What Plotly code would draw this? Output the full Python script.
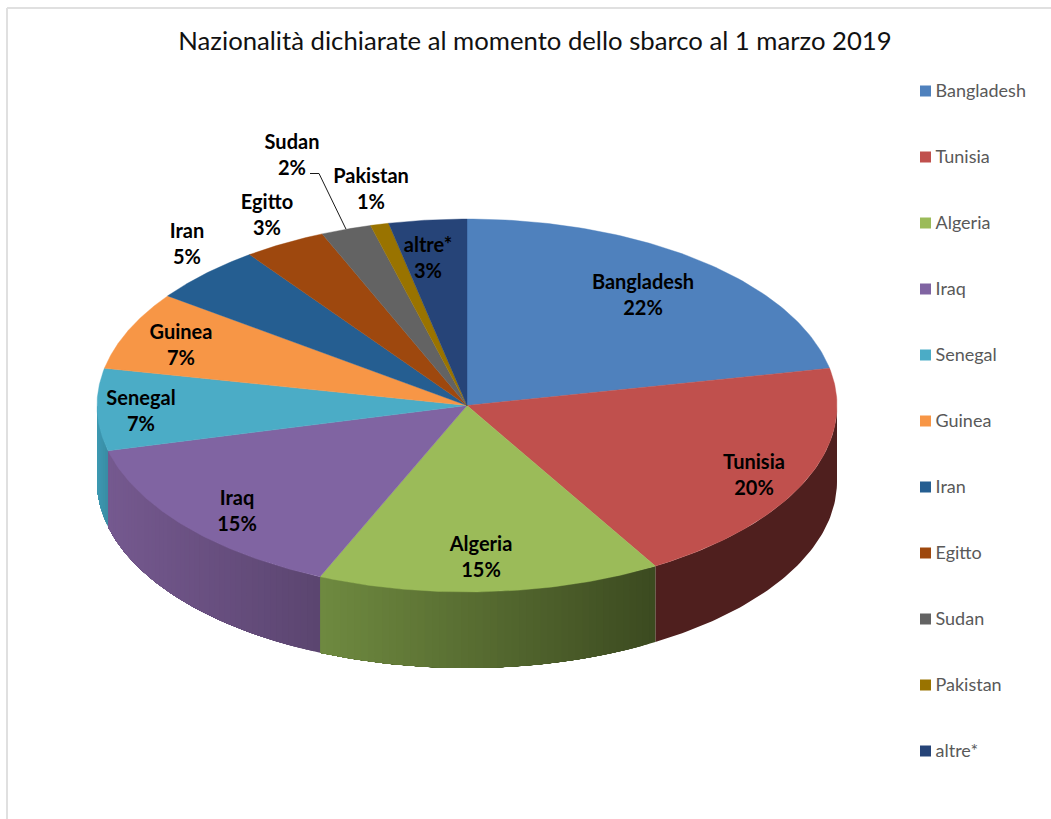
import math
import plotly.graph_objects as go

W, H = 1051, 819
title = "Nazionalità dichiarate al momento dello sbarco al 1 marzo 2019"
categories = ["Bangladesh", "Tunisia", "Algeria", "Iraq", "Senegal", "Guinea",
              "Iran", "Egitto", "Sudan", "Pakistan", "altre*"]
shares = [21.8, 19.7, 15.0, 14.6, 7.1, 6.8, 5.0, 3.6, 2.2, 0.8, 3.4]
percent_labels = ["22%", "20%", "15%", "15%", "7%", "7%", "5%", "3%", "2%", "1%", "3%"]
colors = ["#4f81bd", "#c0504d", "#9bbb59", "#8064a2", "#4bacc6", "#f79646",
          "#255e91", "#9e480e", "#636363", "#997300", "#264478"]
# side-wall shading, left edge -> right edge on screen
wall_left = {"Tunisia": "#4f1f1e", "Algeria": "#6f8a40", "Iraq": "#75598f", "Senegal": "#3f9ab3"}
wall_right = {"Tunisia": "#4f1f1e", "Algeria": "#3c4a20", "Iraq": "#5b4570", "Senegal": "#3a8ca4"}
label_x = [643, 754, 481, 237, 141, 181, 187, 267, 292, 371, 428]
label_y = [281, 461, 543, 497, 397, 331, 230, 201, 141, 175, 244]
line_gap = 26.5

CX, CY, RX, RY, DEPTH_PX = 467, 405.5, 370, 186.5, 76
depth = DEPTH_PX / RY
FONT = "Lato, Carlito, sans-serif"


def hex_rgb(c):
    return [int(c[i:i + 2], 16) for i in (1, 3, 5)]


def mix(a, b, t):
    ra, rb = hex_rgb(a), hex_rgb(b)
    return "rgb(%d,%d,%d)" % tuple(round(x + (y - x) * t) for x, y in zip(ra, rb))


def arc(a0, a1, n=80):
    return [a0 + (a1 - a0) * i / n for i in range(n + 1)]


total = sum(shares)
edges = [0.0]
for v in shares:
    edges.append(edges[-1] + 360.0 * v / total)

fig = go.Figure()

# front walls, in unit-circle coordinates: the axis scales squash the circle.
# each strip runs to the wedge's far end so later strips overpaint seams.
for i, name in enumerate(categories):
    a0, a1 = max(edges[i], 90.0), min(edges[i + 1], 270.0)
    if a1 <= a0:
        continue
    strips = 1 if wall_left[name] == wall_right[name] else 48
    xl = math.sin(math.radians(a1))
    xr = math.sin(math.radians(a0))
    for k in range(strips):
        s0 = a0 + (a1 - a0) * k / strips
        s1 = a0 + (a1 - a0) * (k + 1) / strips
        pts = arc(s0, a1, 60)
        xs = [math.sin(math.radians(p)) for p in pts]
        ys = [math.cos(math.radians(p)) for p in pts]
        xmid = math.sin(math.radians((s0 + s1) / 2))
        col = mix(wall_left[name], wall_right[name], (xmid - xl) / (xr - xl))
        fig.add_trace(go.Scatter(
            x=xs + xs[::-1],
            y=ys + [y - depth for y in ys[::-1]],
            mode="lines", fill="toself", fillcolor=col,
            line=dict(width=0), hoverinfo="skip", showlegend=False))

# top faces
for i, name in enumerate(categories):
    pts = arc(edges[i], edges[i + 1])
    xs = [0] + [math.sin(math.radians(p)) for p in pts] + [0]
    ys = [0] + [math.cos(math.radians(p)) for p in pts] + [0]
    fig.add_trace(go.Scatter(
        x=xs, y=ys, mode="lines", fill="toself", fillcolor=colors[i], name=name,
        line=dict(color=colors[i], width=0.4), hoverinfo="name", showlegend=False))

# leader line for Sudan (in unit coordinates, ends on the slice's outer edge)
to_x = lambda px: (px - CX) / RX
to_y = lambda py: (CY - py) / RY
si = categories.index("Sudan")
mid = math.radians((edges[si] + edges[si + 1]) / 2)
lx0, ly0 = label_x[si], label_y[si] + line_gap + 6
fig.add_trace(go.Scatter(
    x=[to_x(lx0 + 18), to_x(lx0 + 27), math.sin(mid)],
    y=[to_y(ly0), to_y(ly0), math.cos(mid)],
    mode="lines", line=dict(color="#1a1a1a", width=1), hoverinfo="skip", showlegend=False))

# data labels
for i, name in enumerate(categories):
    fig.add_trace(go.Scatter(
        x=[to_x(label_x[i]), to_x(label_x[i])],
        y=[to_y(label_y[i] + 2.5), to_y(label_y[i] + 2 + line_gap)],
        mode="text", text=[name, percent_labels[i]], textposition="middle center",
        textfont=dict(family=FONT, size=20, color="#000000", weight="bold"),
        hoverinfo="skip", showlegend=False))

# legend column
LEG_Y0, LEG_STEP = 91, 66
for i, name in enumerate(categories):
    py = LEG_Y0 + LEG_STEP * i
    fig.add_trace(go.Scatter(
        x=[to_x(925.5)], y=[to_y(py)], mode="markers",
        marker=dict(symbol="square", size=11, color=colors[i]),
        hoverinfo="skip", showlegend=False))
    fig.add_trace(go.Scatter(
        x=[to_x(935.5)], y=[to_y(py + 1)], mode="text", text=[name], textposition="middle right",
        textfont=dict(family=FONT, size=18, color="#595959"),
        hoverinfo="skip", showlegend=False))

fig.update_layout(
    width=W, height=H, margin=dict(l=0, r=0, t=0, b=0),
    paper_bgcolor="white", plot_bgcolor="white", showlegend=False,
    title=dict(text=title, x=535 / W, y=1 - 41 / H, xanchor="center", yanchor="middle",
               font=dict(family=FONT, size=25.7, color="#111111")),
    xaxis=dict(range=[to_x(0), to_x(W)], visible=False, fixedrange=True),
    yaxis=dict(range=[to_y(H), to_y(0)], visible=False, fixedrange=True),
    shapes=[
        dict(type="line", xref="paper", yref="paper", x0=7 / W, x1=7 / W, y0=0, y1=1 - 8 / H,
             line=dict(color="#e0e0e0", width=2)),
        dict(type="line", xref="paper", yref="paper", x0=7 / W, x1=1, y0=1 - 8 / H, y1=1 - 8 / H,
             line=dict(color="#e0e0e0", width=2)),
    ],
)
fig.write_html("out.html", config=dict(displayModeBar=False),
               post_script="document.body.style.margin='0';")
